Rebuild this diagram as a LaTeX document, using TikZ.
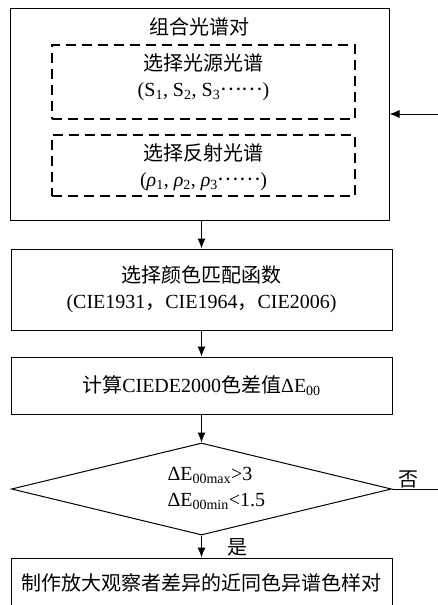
\documentclass[tikz,border=0pt]{standalone}
\usepackage{fontspec}
\setmainfont{Liberation Serif}
\newfontfamily\cjk{Noto Sans CJK SC}
\usetikzlibrary{shapes.geometric,arrows.meta}

\newcommand{\cdotsdots}{\raisebox{0.3em}{\cjk ……}}

\tikzset{
  box/.style={draw, line width=1pt, minimum width=381pt, align=center, inner sep=0pt},
  dashbox/.style={draw, line width=1.5pt, dash pattern=on 10pt off 6pt, minimum width=303pt},
  txt/.style={align=center, inner sep=0pt},
}

\begin{document}
\begin{tikzpicture}[x=1pt, y=-1pt, >={Latex[length=10pt,width=8pt]},
    font=\fontsize{20}{26}\selectfont, line width=1pt]
    \useasboundingbox (0,0) rectangle (438,605);
    % combined spectra
    \node[box, minimum width=379pt, minimum height=212pt] (pair) at (199.5,114) {};
    \node[txt] (pairtitle) at (199.5,27) {\cjk 组合光谱对};
    \node[dashbox, minimum height=74pt] (src) at (203.5,82) {};
    \node[txt] (srctext) at (203.5,77.5) {{\cjk 选择光源光谱}\\(S\textsubscript{1}, S\textsubscript{2}, S\textsubscript{3}\cdotsdots)};
    \node[dashbox, minimum height=61pt] (refl) at (203.5,165.5) {};
    \node[txt] (refltext) at (203.5,167.5) {{\cjk 选择反射光谱}\\({\itshape ρ}\textsubscript{1}, {\itshape ρ}\textsubscript{2}, {\itshape ρ}\textsubscript{3}\cdotsdots)};
    % steps
    \node[box, minimum height=81pt] (match) at (201.5,289.5) {{\cjk 选择颜色匹配函数}\\(CIE1931{\cjk ，}CIE1964{\cjk ，}CIE2006)};
    \node[box, minimum height=57pt] (calc) at (201.5,385.5) {{\cjk 计算}CIEDE2000{\cjk 色差值}ΔE\textsubscript{00}};
    \node[draw, diamond, inner sep=0pt, minimum width=380pt, minimum height=92pt] (dec) at (201.5,489) {};
    \node[txt, align=left, anchor=west] (dectext) at (167,488) {ΔE\textsubscript{00max}>3\\ΔE\textsubscript{00min}<1.5};
    \node[box, minimum height=50pt] (make) at (201.5,583) {\cjk 制作放大观察者差异的近同色异谱色样对};
    \node[txt] (no) at (408,479) {\cjk 否};
    \node[txt] (yes) at (237,547) {\cjk 是};
    % arrows
    \draw[->] (match.north |- pair.south) -- (match.north);
    \draw[->] (match) -- (calc);
    \draw[->] (calc) -- (dec);
    \draw[->] (dec) -- (make);
    \draw[->] (dec.east) -- ++(50,0) |- (pair.east);
\end{tikzpicture}
\end{document}
